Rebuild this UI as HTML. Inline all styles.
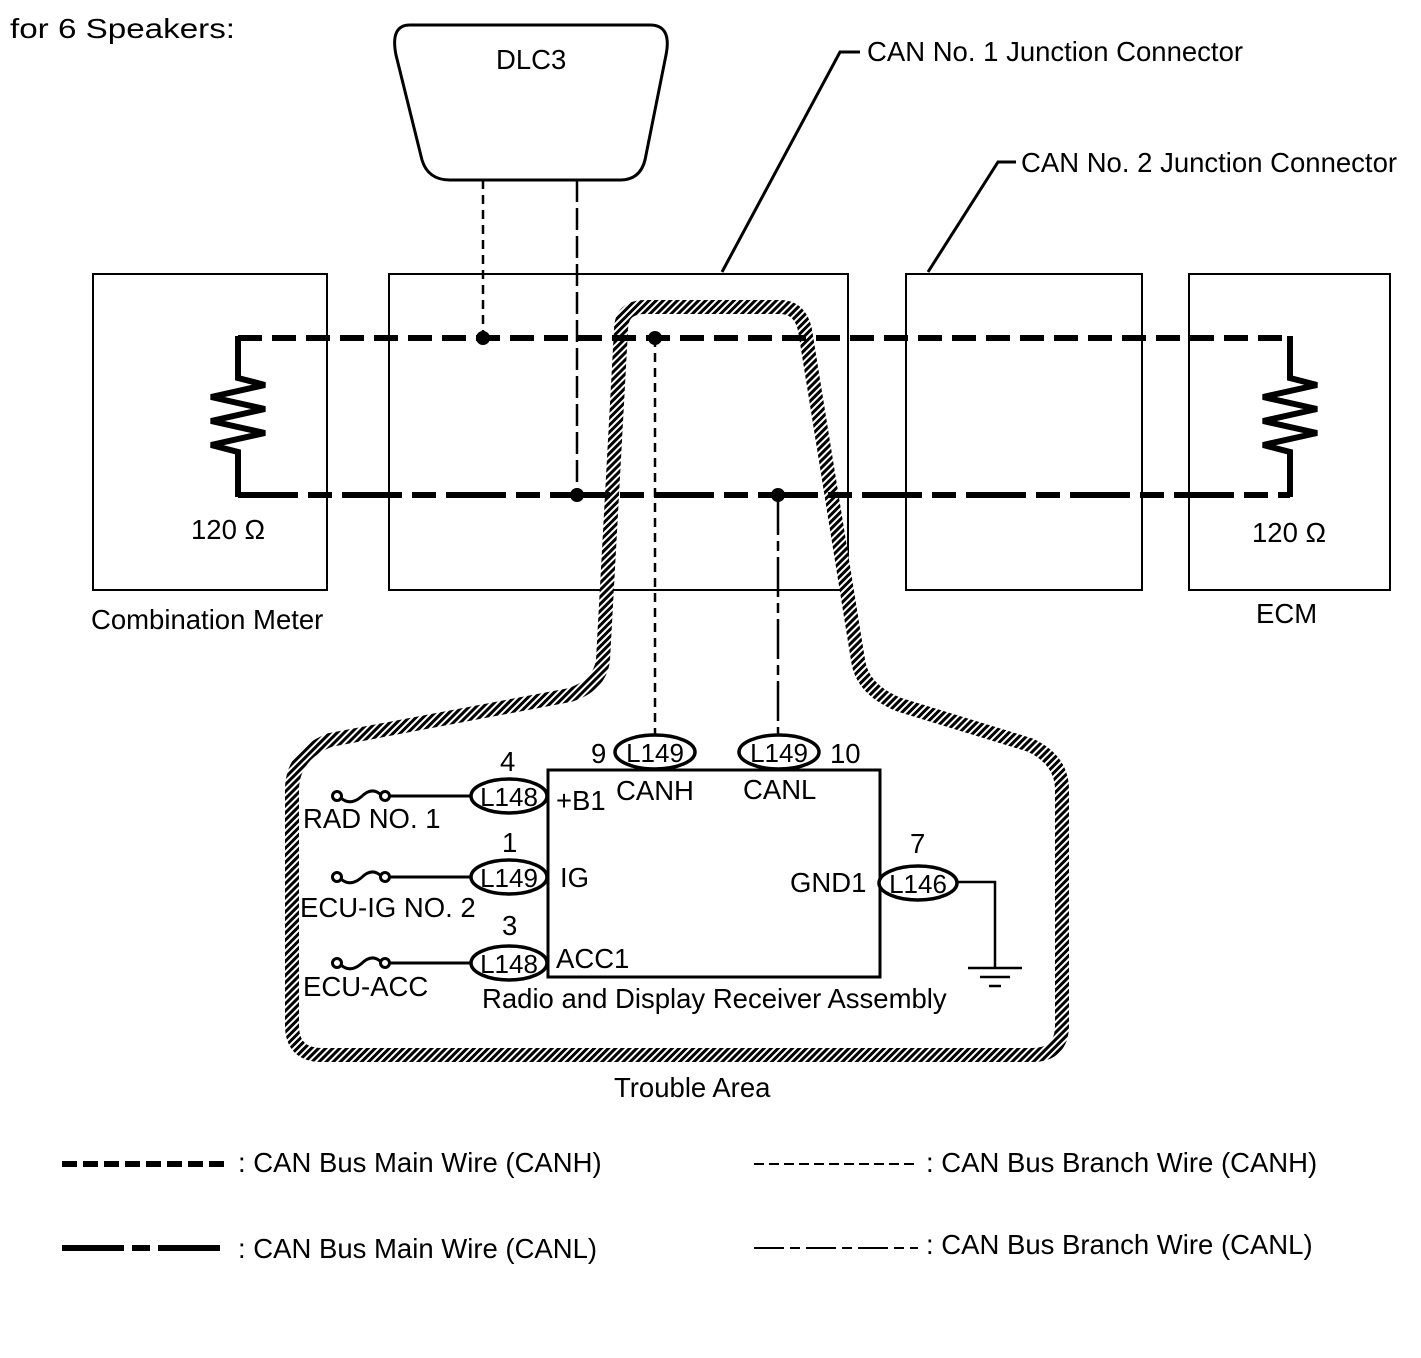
<!DOCTYPE html>
<html><head><meta charset="utf-8"><style>
body{margin:0;background:#fff}
svg{display:block}
text{font-family:"Liberation Sans",sans-serif;font-size:27.5px;fill:#000}
.c{text-anchor:middle;font-size:26px}
</style></head><body>
<svg width="1421" height="1358" viewBox="0 0 1421 1358" xmlns="http://www.w3.org/2000/svg">
<defs>
<pattern id="h" width="5" height="5" patternUnits="userSpaceOnUse" patternTransform="rotate(45)">
<rect width="5" height="5" fill="#fff"/><rect width="3" height="5" fill="#000"/>
</pattern>
</defs>
<text x="10" y="38" font-size="31" textLength="225" lengthAdjust="spacingAndGlyphs">for 6 Speakers:</text>
<path d="M410,25 L650,25 Q672,25 666,55 L645,160 Q640,180 620,180 L450,180 Q428,180 422,160 L396,55 Q390,25 410,25 Z" fill="none" stroke="#000" stroke-width="3"/>
<text x="496" y="69">DLC3</text>
<polyline points="722,272 840,52 860,52" fill="none" stroke="#000" stroke-width="3"/>
<text x="867" y="61">CAN No. 1 Junction Connector</text>
<polyline points="928,272 998,162 1016,162" fill="none" stroke="#000" stroke-width="3"/>
<text x="1021" y="172">CAN No. 2 Junction Connector</text>
<g fill="none" stroke="#000" stroke-width="2">
<rect x="93" y="274" width="234" height="316"/>
<rect x="389" y="274" width="459" height="316"/>
<rect x="906" y="274" width="236" height="316"/>
<rect x="1189" y="274" width="201" height="316"/>
</g>
<text x="191" y="539">120 Ω</text>
<text x="1252" y="542">120 Ω</text>
<text x="91" y="629">Combination Meter</text>
<text x="1256" y="623">ECM</text>
<path d="M621,330 Q621,307 645,307 L780,307 Q800,307 805,330 L858,660 Q862,690 900,705 L1030,745 Q1062,760 1062,790 L1062,1025 Q1062,1055 1032,1055 L322,1055 Q292,1055 292,1025 L292,790 Q292,755 330,740 L570,695 Q600,685 603,660 Z" fill="none" stroke="url(#h)" stroke-width="14"/>
<text x="614" y="1097">Trouble Area</text>
<line x1="238" y1="338" x2="1290" y2="338" stroke="#000" stroke-width="6" stroke-dasharray="24,10"/>
<line x1="238" y1="495" x2="1290" y2="495" stroke="#000" stroke-width="6" stroke-dasharray="60,10,24,10"/>
<g fill="none" stroke="#000" stroke-width="6">
<polyline points="238,336 238,378 265,385 211,397 265,409 211,421 265,433 211,445 238,452 238,497"/>
<polyline points="1290,336 1290,378 1317,385 1263,397 1317,409 1263,421 1317,433 1263,445 1290,452 1290,497"/>
</g>
<line x1="483" y1="180" x2="483" y2="338" stroke="#000" stroke-width="2.5" stroke-dasharray="9,6"/>
<line x1="577" y1="180" x2="577" y2="495" stroke="#000" stroke-width="2.5" stroke-dasharray="22,6"/>
<line x1="655" y1="338" x2="655" y2="738" stroke="#000" stroke-width="2.5" stroke-dasharray="9,6"/>
<line x1="778" y1="495" x2="778" y2="738" stroke="#000" stroke-width="2.5" stroke-dasharray="40,6,10,6"/>
<g fill="#000"><circle cx="483" cy="338" r="7"/><circle cx="655" cy="338" r="7"/><circle cx="577" cy="495" r="7"/><circle cx="778" cy="495" r="7"/></g>
<rect x="548" y="770" width="332" height="207" fill="none" stroke="#000" stroke-width="3"/>
<g fill="#fff" stroke="#000" stroke-width="3.5">
<ellipse cx="655" cy="752" rx="40" ry="17"/>
<ellipse cx="779" cy="752" rx="40" ry="17"/>
<ellipse cx="509" cy="796" rx="38" ry="17"/>
<ellipse cx="509" cy="877" rx="38" ry="17"/>
<ellipse cx="509" cy="963" rx="38" ry="17"/>
<ellipse cx="918" cy="883" rx="39" ry="17"/>
</g>
<text class="c" x="655" y="762">L149</text><text class="c" x="779" y="762">L149</text>
<text x="591" y="763">9</text><text x="830" y="763">10</text>
<text class="c" x="509" y="806">L148</text><text class="c" x="509" y="887">L149</text><text class="c" x="509" y="973">L148</text>
<text class="c" x="918" y="893">L146</text>
<text x="500" y="771">4</text><text x="502" y="852">1</text><text x="502" y="935">3</text><text x="910" y="853">7</text>
<text x="556" y="810">+B1</text><text x="616" y="800">CANH</text><text x="743" y="799">CANL</text>
<text x="560" y="887">IG</text><text x="790" y="892">GND1</text><text x="556" y="968">ACC1</text>
<text x="482" y="1008">Radio and Display Receiver Assembly</text>
<polyline points="957,882 995,882 995,968" fill="none" stroke="#000" stroke-width="2.5"/>
<line x1="968" y1="968" x2="1022" y2="968" stroke="#000" stroke-width="2.5"/>
<line x1="980" y1="977" x2="1010" y2="977" stroke="#000" stroke-width="2.5"/>
<line x1="989" y1="986" x2="1001" y2="986" stroke="#000" stroke-width="2.5"/>
<g fill="none" stroke="#000" stroke-width="3">
<g><circle cx="337" cy="796" r="4.5"/><circle cx="385" cy="796" r="4.5"/><path d="M341,798 Q350,806 361,797 Q372,786 381,795"/><line x1="390" y1="796" x2="471" y2="796"/></g>
<g transform="translate(0,81)"><circle cx="337" cy="796" r="4.5"/><circle cx="385" cy="796" r="4.5"/><path d="M341,798 Q350,806 361,797 Q372,786 381,795"/><line x1="390" y1="796" x2="471" y2="796"/></g>
<g transform="translate(0,167)"><circle cx="337" cy="796" r="4.5"/><circle cx="385" cy="796" r="4.5"/><path d="M341,798 Q350,806 361,797 Q372,786 381,795"/><line x1="390" y1="796" x2="471" y2="796"/></g>
</g>
<text x="303" y="828">RAD NO. 1</text>
<text x="300" y="917">ECU-IG NO. 2</text>
<text x="303" y="996">ECU-ACC</text>
<line x1="62" y1="1164" x2="228" y2="1164" stroke="#000" stroke-width="6" stroke-dasharray="15,6"/>
<text x="238" y="1172">: CAN Bus Main Wire (CANH)</text>
<line x1="62" y1="1248" x2="228" y2="1248" stroke="#000" stroke-width="6" stroke-dasharray="62,8,18,8"/>
<text x="238" y="1258">: CAN Bus Main Wire (CANL)</text>
<line x1="754" y1="1164" x2="918" y2="1164" stroke="#000" stroke-width="2" stroke-dasharray="10,5"/>
<text x="926" y="1172">: CAN Bus Branch Wire (CANH)</text>
<line x1="754" y1="1248" x2="918" y2="1248" stroke="#000" stroke-width="2" stroke-dasharray="30,6,10,6"/>
<text x="926" y="1254">: CAN Bus Branch Wire (CANL)</text>
</svg>
</body></html>
